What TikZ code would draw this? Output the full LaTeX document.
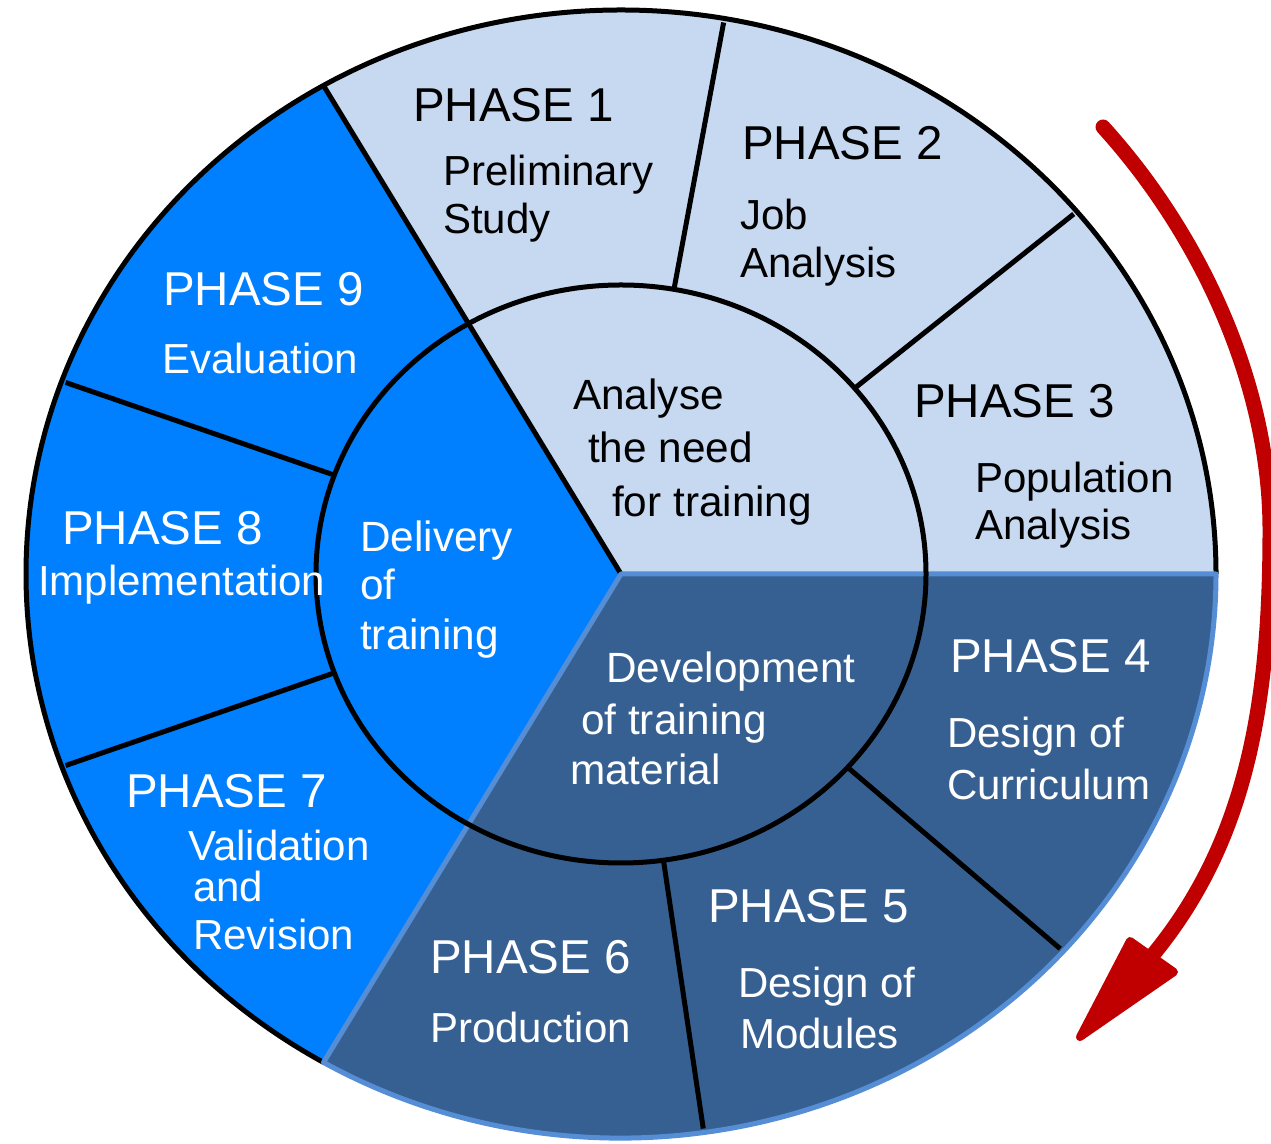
\documentclass[tikz,border=0pt]{standalone}
\usepackage{fontspec}
\setmainfont{Liberation Sans}
\usetikzlibrary{calc}
\definecolor{lightc}{RGB}{198,217,241}
\definecolor{brightc}{RGB}{0,128,255}
\definecolor{darkc}{RGB}{55,96,146}
\definecolor{midc}{RGB}{85,142,213}
\definecolor{redc}{RGB}{192,0,0}
\begin{document}
\begin{tikzpicture}[x=1pt,y=1pt,
  edge/.style={line width=5pt},
  title/.style={font=\fontsize{47.5}{56}\selectfont, inner sep=0pt, anchor=base west},
  desc/.style={font=\fontsize{42}{49}\selectfont, inner sep=0pt, anchor=base west},
  hub/.style={font=\fontsize{42.3}{50}\selectfont, inner sep=0pt, anchor=base west},
  onlight/.style={text=black},
  ondark/.style={text=white}]
\useasboundingbox (0,0) rectangle (1271,1143);
\coordinate (C) at (621,569);
% sector fills
\fill[lightc] (C) -- ++(0:595pt and 564pt) arc[start angle=0,end angle=120,x radius=595pt,y radius=564pt] -- cycle;
\fill[brightc] (C) -- ++(120:595pt and 564pt) arc[start angle=120,end angle=240,x radius=595pt,y radius=564pt] -- cycle;
\fill[darkc] (C) -- ++(240:595pt and 564pt) arc[start angle=240,end angle=360,x radius=595pt,y radius=564pt] -- cycle;
% phase dividers
\foreach \a in {80,40,-42,-82,160,200}
  \draw[edge] ($(C)+(\a:305pt and 289pt)$) -- ($(C)+(\a:591pt and 560pt)$);
% black outer arcs
\draw[edge] (C) ++(0:595pt and 564pt) arc[start angle=0,end angle=240,x radius=595pt,y radius=564pt];
\draw[edge] (C) -- ++(120:595pt and 564pt);
% dark sector outline
\draw[midc, line width=5pt, line join=round] (C) -- ++(240:595pt and 564pt) arc[start angle=240,end angle=360,x radius=595pt,y radius=564pt] -- cycle;
% inner ellipse
\draw[edge] (C) ellipse[x radius=305pt, y radius=289pt];
% red arrow
\coordinate (rs) at (1103,1016);
\coordinate (rm) at (1270,613);
\coordinate (rb) at (1152,187);
\coordinate (rt) at (1080,106);
\coordinate (rl) at (1130,202);
\coordinate (rr) at (1174,171);
\draw[redc, line width=15pt, line cap=round] (rs) .. controls (1201,908) and (1270,758) .. (rm)
   .. controls (1270,443) and (1248,303) .. (rb);
\filldraw[redc, line width=8pt, line join=round] (rt) -- (rl) -- (rr) -- cycle;
% light texts
\node[title,onlight] (p1) at (413,1021) {PHASE 1};
\node[desc,onlight] (p1a) at (443,957) {Preliminary};
\node[desc,onlight] (p1b) at (443,909) {Study};
\node[title,onlight] (p2) at (742,983) {PHASE 2};
\node[desc,onlight] (p2a) at (740,913) {Job};
\node[desc,onlight] (p2b) at (740,865) {Analysis};
\node[title,onlight] (p3) at (914,725) {PHASE 3};
\node[desc,onlight] (p3a) at (975,650) {Population};
\node[desc,onlight] (p3b) at (975,603) {Analysis};
\node[hub,onlight] (h1a) at (573,733) {Analyse};
\node[hub,onlight] (h1b) at (588,680) {the need};
\node[hub,onlight] (h1c) at (612,626) {for training};
% dark texts
\node[title,ondark] (p4) at (950,470) {PHASE 4};
\node[desc,ondark] (p4a) at (947,395) {Design of};
\node[desc,ondark] (p4b) at (947,343) {Curriculum};
\node[hub,ondark] (h2a) at (606,460) {Development};
\node[hub,ondark] (h2b) at (581,408) {of training};
\node[hub,ondark] (h2c) at (570,358) {material};
\node[title,ondark] (p5) at (708,220) {PHASE 5};
\node[desc,ondark] (p5a) at (738,146) {Design of};
\node[desc,ondark] (p5b) at (740,95) {Modules};
\node[title,ondark] (p6) at (430,169) {PHASE 6};
\node[desc,ondark] (p6a) at (430,100) {Production};
% bright texts
\node[title,ondark] (p9) at (163,837) {PHASE 9};
\node[desc,ondark] (p9a) at (162,769) {Evaluation};
\node[title,ondark] (p8) at (62,598) {PHASE 8};
\node[desc,ondark] (p8a) at (38,547) {Implementation};
\node[hub,ondark] (h3a) at (360,591) {Delivery};
\node[hub,ondark] (h3b) at (360,543) {of};
\node[hub,ondark] (h3c) at (360,493) {training};
\node[title,ondark] (p7) at (126,335) {PHASE 7};
\node[desc,ondark] (p7a) at (188,282) {Validation};
\node[desc,ondark] (p7b) at (193,241) {and};
\node[desc,ondark] (p7c) at (193,193) {Revision};
\end{tikzpicture}
\end{document}
